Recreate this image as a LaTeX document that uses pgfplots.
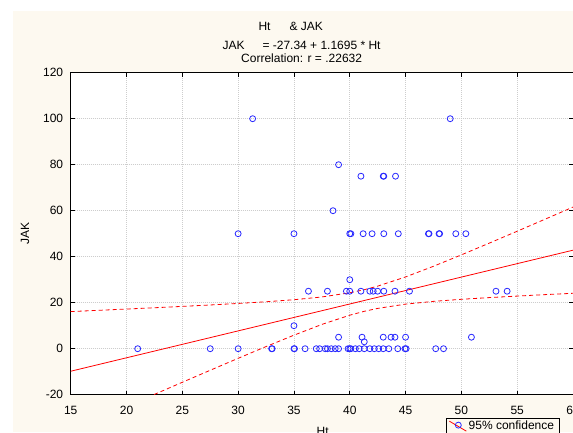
\documentclass[border=0pt]{standalone}
\usepackage{fontspec}
\setmainfont{Liberation Sans}
\usepackage{pgfplots}
\pgfplotsset{compat=1.18}
\definecolor{cream}{RGB}{253,249,240}
\definecolor{gridgray}{RGB}{205,205,205}
\definecolor{ptblue}{RGB}{40,40,255}
\begin{document}
\fontsize{12}{14}\selectfont
\begin{tikzpicture}
\fill[white] (0pt,0pt) rectangle (573pt,432pt);
\fill[cream] (12.5pt,0pt) rectangle (573pt,421pt);
\node[anchor=base west, inner sep=0pt] at (258.3pt,401pt) {Ht};
\node[anchor=base west, inner sep=0pt] at (289.3pt,401pt) {\& JAK};
\node[anchor=base west, inner sep=0pt] at (222.3pt,382.7pt) {JAK};
\node[anchor=base west, inner sep=0pt] at (262.3pt,382.7pt) {= -27.34 + 1.1695 * Ht};
\node[anchor=base west, inner sep=0pt] at (241pt,369.4pt) {Correlation: r = .22632};
\begin{axis}[
  at={(70.7pt,37.3pt)}, anchor=south west,
  width=502.3pt, height=322pt, scale only axis,
  xmin=15, xmax=60, ymin=-20, ymax=120,
  xtick={15,20,...,60}, ytick={-20,0,...,120},
  axis background/.style={fill=white},
  grid=major,
  major grid style={gridgray, dash pattern=on 1pt off 1pt, line width=0.7pt},
  tick align=inside, tick pos=both,
  major tick length=4pt,
  axis line style={black, line width=1pt},
  tick style={black, line width=0.7pt},
  /pgf/number format/assume math mode=true,
  xticklabel style={anchor=north, inner sep=0pt, yshift=-11pt},
  yticklabel style={anchor=east, inner sep=0pt, xshift=-7.4pt},
  xlabel={Ht}, ylabel={JAK},
  xlabel style={at={(axis description cs:0.5017,-0.1127)}, anchor=center, inner sep=0pt},
  ylabel style={at={(axis description cs:-0.091,0.5)}, anchor=center, inner sep=0pt},
  legend style={at={(axis description cs:0.7466,-0.0714)}, anchor=north west,
    draw=black, fill=cream, inner xsep=3pt, inner ysep=1pt,
    nodes={inner sep=2pt}, font=\fontsize{12}{14}\selectfont},
  clip=true,
]
\addplot[red, line width=0.8pt, forget plot] coordinates {(15,-9.80) (60,42.83)};
\addplot[red, line width=0.8pt, dash pattern=on 4pt off 3pt, forget plot] coordinates {
(15,16.14) (17.5,16.69) (20,17.24) (22.5,17.80) (25,18.40) (27.5,19.01) (30,19.68)
(32.5,20.41) (35,21.30) (37.5,22.49) (40,24.31) (41.3,25.66) (42.5,27.20) (45,31.20)
(47.5,35.84) (50,40.80) (52.5,45.90) (55,51.08) (57.5,56.31) (60,61.57)};
\addplot[red, line width=0.8pt, dash pattern=on 4pt off 3pt, forget plot] coordinates {
(15,-35.74) (17.5,-30.43) (20,-25.14) (22.5,-19.86) (25,-14.60) (27.5,-9.37) (30,-4.18)
(32.5,0.93) (35,5.88) (37.5,10.55) (40,14.57) (41.3,16.26) (42.5,17.52) (45,19.38)
(47.5,20.58) (50,21.48) (52.5,22.22) (55,22.88) (57.5,23.51) (60,24.09)};
\addplot[only marks, mark=o, ptblue, mark size=3pt, mark options={line width=0.8pt}, forget plot] coordinates {
(31.3,100) (49.0,100)
(39.0,80)
(41.0,75) (43.0,75) (43.05,75) (44.1,75)
(38.5,60)
(30,50) (35,50) (40,50) (40.1,50) (41.2,50) (42,50) (43.05,50) (44.35,50) (47.05,50) (47.1,50) (48,50) (48.05,50) (49.5,50) (50.4,50)
(40,30)
(36.3,25) (38,25) (39.7,25) (40,25) (41,25) (41.8,25) (42.1,25) (42.5,25) (43.05,25) (44.05,25) (45.35,25) (53.1,25) (54.1,25)
(35,10)
(39,5) (41.1,5) (43,5) (43.7,5) (44.05,5) (45,5) (50.9,5)
(41.3,3)
(21,0) (27.5,0) (30,0) (33,0) (33.05,0) (35,0) (35.05,0) (36,0) (37,0) (37.3,0) (37.8,0) (38,0) (38.35,0) (38.7,0) (39,0) (39.85,0) (40,0) (40.1,0) (40.5,0) (40.85,0) (41.3,0) (41.8,0) (42.2,0) (42.6,0) (43,0) (43.5,0) (44.3,0) (44.95,0) (45.05,0) (47.7,0) (48.4,0)
};
\addlegendimage{legend image code/.code={
  \draw[red, line width=0.8pt] (0pt,5pt) -- (17pt,-5pt);
  \draw[ptblue, line width=0.8pt] (9pt,1pt) circle (3pt);}}
\addlegendentry{95\% confidence}
\end{axis}
\pgfresetboundingbox
\path[use as bounding box] (0pt,0pt) rectangle (573pt,432pt);
\end{tikzpicture}
\end{document}
